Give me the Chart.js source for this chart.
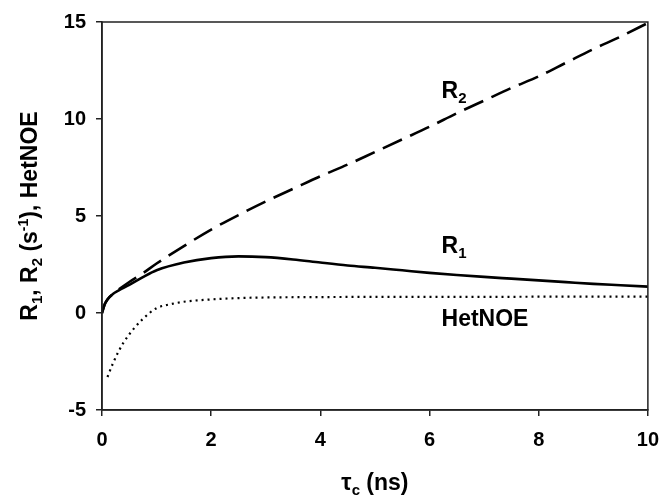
<!DOCTYPE html>
<html>
<head>
<meta charset="utf-8">
<script src="https://cdn.jsdelivr.net/npm/chart.js@4.4.1/dist/chart.umd.min.js"></script>
<style>
html,body{margin:0;padding:0;background:#fff;}
#wrap{width:671px;height:495px;position:relative;}
</style>
</head>
<body>
<div id="wrap"><canvas id="c" width="671" height="495"></canvas></div>
<script>
// τc values (ns) and series values
const tauR1 = [0, 0.05, 0.1, 0.2, 0.3, 0.5, 0.75, 1, 1.5, 2, 2.5, 3, 3.5, 4, 4.5, 5, 5.5, 6, 6.5, 7, 7.5, 8, 8.5, 9, 9.5, 10];
const r1    = [0, 0.45, 0.7, 0.98, 1.15, 1.45, 1.85, 2.2, 2.6, 2.83, 2.92, 2.88, 2.76, 2.6, 2.45, 2.33, 2.2, 2.07, 1.96, 1.86, 1.77, 1.68, 1.59, 1.5, 1.43, 1.36];

const tauR2 = [0, 0.05, 0.1, 0.2, 0.3, 0.5, 0.75, 1, 1.5, 2, 2.5, 3, 3.5, 4, 4.5, 5, 5.5, 6, 6.5, 7, 7.5, 8, 8.5, 9, 9.5, 10];
const r2    = [0, 0.45, 0.7, 0.98, 1.2, 1.6, 2.05, 2.55, 3.45, 4.3, 5.05, 5.75, 6.4, 7.05, 7.65, 8.3, 8.95, 9.6, 10.3, 10.95, 11.6, 12.2, 12.9, 13.6, 14.25, 14.95];

const tauNOE = [0.1, 0.2, 0.3, 0.4, 0.5, 0.6, 0.75, 1, 1.25, 1.5, 2, 2.5, 3, 4, 5, 6, 7, 8, 9, 10];
const hetNOE = [-3.3, -2.6, -2.0, -1.5, -1.1, -0.75, -0.3, 0.25, 0.45, 0.58, 0.7, 0.77, 0.8, 0.82, 0.83, 0.83, 0.83, 0.84, 0.84, 0.84];

const xTicks = [0, 2, 4, 6, 8, 10];
const yTicks = [-5, 0, 5, 10, 15];

const FONT = '"Liberation Sans", Arial, Helvetica, sans-serif';
const toPts = (xs, ys) => xs.map((x, i) => ({x: x, y: ys[i]}));

function richWidth(ctx, segs){
  let w = 0;
  segs.forEach(s => { ctx.font = 'bold ' + s.size + 'px ' + FONT; w += ctx.measureText(s.t).width; });
  return w;
}
function drawRich(ctx, segs, x, y){
  let cx = x;
  segs.forEach(s => {
    ctx.font = 'bold ' + s.size + 'px ' + FONT;
    ctx.fillText(s.t, cx, y + (s.dy || 0));
    cx += ctx.measureText(s.t).width;
  });
}

const decor = {
  id: 'decor',
  afterDraw(chart){
    const ctx = chart.ctx;
    const a = chart.chartArea;
    const xs = chart.scales.x, ys = chart.scales.y;
    ctx.save();
    ctx.strokeStyle = '#222';
    ctx.lineWidth = 1.5;
    ctx.strokeRect(a.left, a.top, a.right - a.left, a.bottom - a.top);
    ctx.fillStyle = '#000';
    ctx.textBaseline = 'alphabetic';
    ctx.textAlign = 'left';
    // series labels
    drawRich(ctx, [{t:'R', size:23}, {t:'2', size:15, dy:5}], xs.getPixelForValue(6.22), ys.getPixelForValue(11.1));
    drawRich(ctx, [{t:'R', size:23}, {t:'1', size:15, dy:5}], xs.getPixelForValue(6.22), ys.getPixelForValue(3.1));
    drawRich(ctx, [{t:'HetNOE', size:23}], xs.getPixelForValue(6.22), ys.getPixelForValue(-0.67));
    // x title
    const xt = [{t:'\u03C4', size:23}, {t:'c', size:15, dy:5}, {t:' (ns)', size:23}];
    const xw = richWidth(ctx, xt);
    drawRich(ctx, xt, (a.left + a.right)/2 - xw/2, 490);
    // y title (rotated)
    const yt = [{t:'R', size:23}, {t:'1', size:15, dy:5}, {t:', R', size:23}, {t:'2', size:15, dy:5},
                {t:' (s', size:23}, {t:'-1', size:14, dy:-9}, {t:'), HetNOE', size:23}];
    const yw = richWidth(ctx, yt);
    ctx.translate(37, (a.top + a.bottom)/2);
    ctx.rotate(-Math.PI/2);
    drawRich(ctx, yt, -yw/2, 0);
    ctx.restore();
  }
};

new Chart(document.getElementById('c'), {
  type: 'line',
  data: {
    datasets: [
      {label:'R2', data: toPts(tauR2, r2), borderColor:'#000', borderWidth:2.6, borderDash:[21,9], pointRadius:0, fill:false, cubicInterpolationMode:'monotone'},
      {label:'R1', data: toPts(tauR1, r1), borderColor:'#000', borderWidth:2.6, pointRadius:0, fill:false, cubicInterpolationMode:'monotone'},
      {label:'HetNOE', data: toPts(tauNOE, hetNOE), borderColor:'#000', borderWidth:2.2, borderDash:[2,4], pointRadius:0, fill:false, cubicInterpolationMode:'monotone'}
    ]
  },
  options: {
    responsive: false,
    animation: false,
    devicePixelRatio: 1,
    layout: {padding: {left: 0, top: 22, right: 13, bottom: 0}},
    plugins: {legend: {display:false}, tooltip: {enabled:false}},
    scales: {
      x: {
        type: 'linear', min: 0, max: 10,
        afterBuildTicks(s){ s.ticks = xTicks.map(v => ({value:v})); },
        afterFit(s){ s.height = 85; },
        grid: {drawOnChartArea:false, drawTicks:true, tickLength:6, color:'#222', lineWidth:1.5},
        border: {color:'#222', width:1.5},
        ticks: {color:'#000', padding:12, font:{family:FONT, size:20, weight:'bold'}, maxRotation:0}
      },
      y: {
        type: 'linear', min: -5, max: 15,
        afterBuildTicks(s){ s.ticks = yTicks.map(v => ({value:v})); },
        afterFit(s){ s.width = 102; },
        grid: {drawOnChartArea:false, drawTicks:true, tickLength:6, color:'#222', lineWidth:1.5},
        border: {color:'#222', width:1.5},
        ticks: {color:'#000', padding:10, font:{family:FONT, size:20, weight:'bold'}}
      }
    }
  },
  plugins: [decor]
});
</script>
</body>
</html>
